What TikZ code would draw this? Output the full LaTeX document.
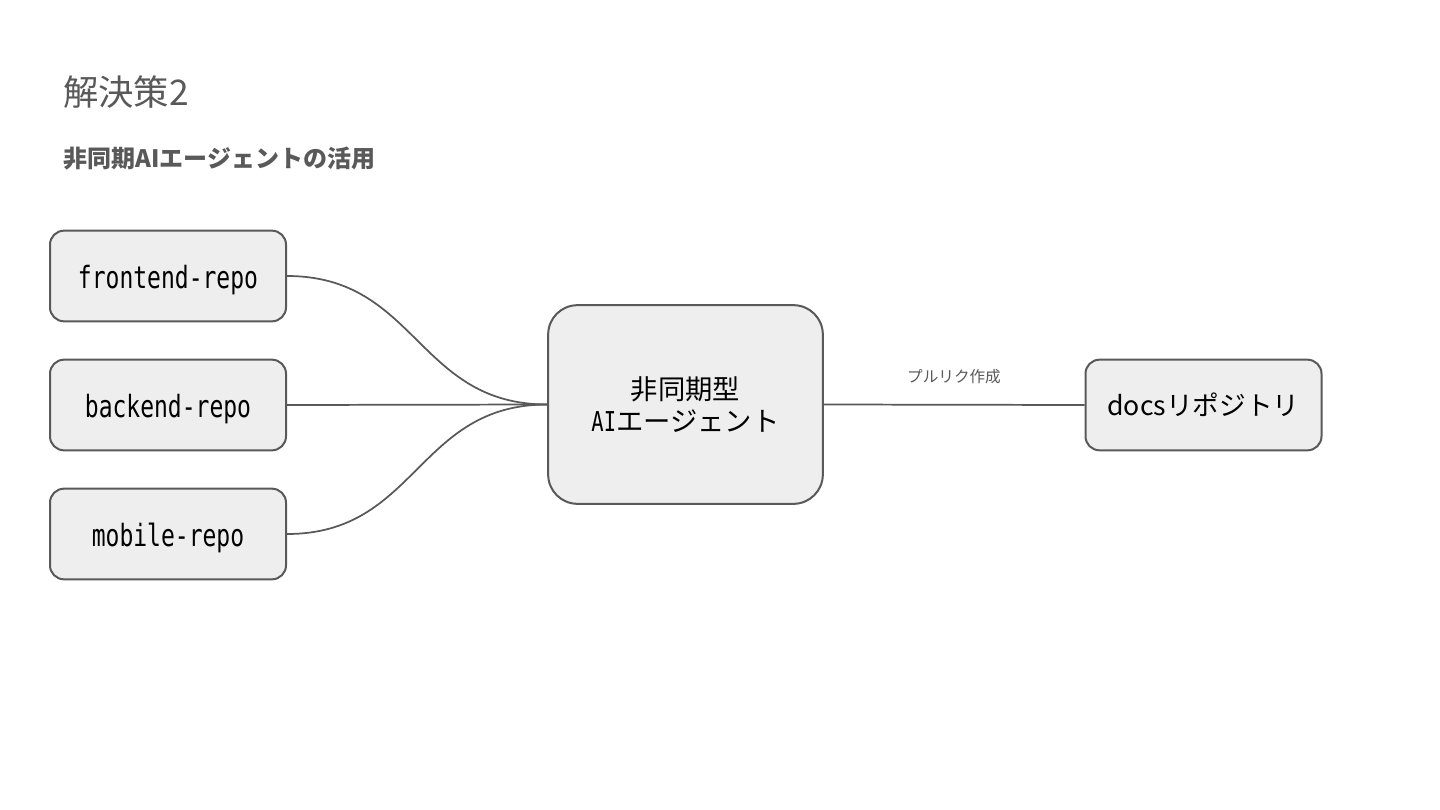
\documentclass[tikz,border=0pt]{standalone}
\usepackage{fontspec}
\setmainfont{Noto Sans CJK JP}
\newfontfamily\jp{Noto Sans CJK JP}
\newfontfamily\mono[FakeStretch=0.75]{DejaVu Sans Mono}
\definecolor{stroke}{HTML}{595959}
\definecolor{boxfill}{HTML}{EEEEEE}
\definecolor{titlegray}{HTML}{595959}
\tikzset{
  repobox/.style={draw=stroke, fill=boxfill, line width=1.5pt, rounded corners=10.5pt,
    minimum width=177pt, minimum height=68pt, inner sep=0pt, text height=18pt, text depth=0pt,
    font=\mono\fontsize{23pt}{27pt}\selectfont},
  aibox/.style={draw=stroke, fill=boxfill, line width=1.5pt, rounded corners=22pt,
    minimum width=206pt, minimum height=149pt, inner sep=0pt, align=center,
    font=\jp\fontsize{20.5pt}{23.5pt}\selectfont},
  docbox/.style={draw=stroke, fill=boxfill, line width=1.5pt, rounded corners=10.5pt,
    minimum width=177pt, minimum height=68pt, inner sep=0pt,
    font=\jp\fontsize{20pt}{24pt}\selectfont},
  edge/.style={draw=stroke, line width=1.3pt},
  lbl/.style={text=titlegray, font=\jp\fontsize{11.7pt}{14pt}\selectfont, inner sep=0pt}
}
\begin{document}
\begin{tikzpicture}[x=0.75pt, y=-0.75pt]
\useasboundingbox[fill=white] (0,0) rectangle (1440,810);
\node[anchor=west, text=titlegray, font=\jp\fontsize{26.5pt}{30pt}\selectfont, inner sep=0pt] (title) at (63,92) {解決策2};
\node[anchor=west, text=titlegray, font=\jp\bfseries\fontsize{18pt}{22pt}\selectfont, inner sep=0pt] (sub) at (63,159) {非同期AIエージェントの活用};

\node[repobox] (fe) at (168,276) {frontend-repo};
\node[repobox] (be) at (168,405) {backend-repo};
\node[repobox] (mo) at (168,534) {mobile-repo};
\node[aibox] (ai) at (685.5,404.5) {非同期型\\{\mono AI}エージェント};
\node[docbox] (docs) at (1203.5,405) {docsリポジトリ};

\draw[edge] (fe.east) .. controls +(130,0) and +(-130,0) .. (ai.west);
\draw[edge] (be.east) -- (ai.west);
\draw[edge] (mo.east) .. controls +(130,0) and +(-130,0) .. (ai.west);
\draw[edge] (ai.east) -- (docs.west);
\node[lbl] (prl) at (954,377) {プルリク作成};
\end{tikzpicture}
\end{document}
